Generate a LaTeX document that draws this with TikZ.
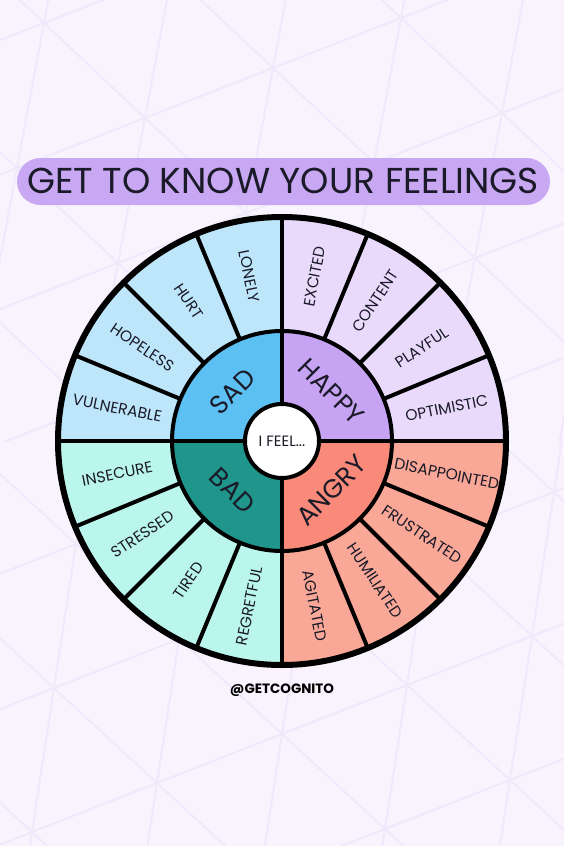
\documentclass[tikz,border=0pt]{standalone}
\usepackage{fontspec}
\setmainfont{Poppins}
\definecolor{bgc}{HTML}{F8F3FD}
\definecolor{meshc}{HTML}{F0E9FC}
\definecolor{titlec}{HTML}{C9A8F3}
\definecolor{sadin}{HTML}{5CC0F2}
\definecolor{sadout}{HTML}{BEE6FB}
\definecolor{hapin}{HTML}{C7A3F4}
\definecolor{hapout}{HTML}{E9DAFB}
\definecolor{angin}{HTML}{F98A79}
\definecolor{angout}{HTML}{F9A797}
\definecolor{badin}{HTML}{20958C}
\definecolor{badout}{HTML}{BBF6EC}
\definecolor{ink}{HTML}{1A1A28}
\tikzset{
  meshline/.style={draw=meshc, line width=2},
  outlab/.style={text=ink, font=\fontsize{15.5}{17}\selectfont, inner sep=0pt},
  inlab/.style={text=ink, font=\fontsize{26}{30}\selectfont, inner sep=0pt},
  wheelline/.style={draw=black, line width=4},
}
\begin{document}
\begin{tikzpicture}[x=1pt,y=-1pt]
\useasboundingbox (0,0) rectangle (564,846);
\fill[bgc] (0,0) rectangle (564,846);
% background mesh (top half)
\begin{scope}
\clip (0,0) rectangle (564,441);
\foreach \k in {-8,...,8}{
  \draw[meshline] ({145+\k*101-8*128},{118+\k*95+8*50}) -- ({145+\k*101+8*128},{118+\k*95-8*50});
  \draw[meshline] ({145+\k*128-8*101},{118-\k*50-8*95}) -- ({145+\k*128+8*101},{118-\k*50+8*95});
  \draw[meshline] ({145+\k*128+8*27},{118-\k*50-8*145}) -- ({145+\k*128-8*27},{118-\k*50+8*145});
}
\end{scope}
% background mesh (bottom half)
\begin{scope}
\clip (0,441) rectangle (564,846);
\foreach \k in {-8,...,8}{
  \draw[meshline] ({157+\k*103-8*125},{783+\k*95+8*49}) -- ({157+\k*103+8*125},{783+\k*95-8*49});
  \draw[meshline] ({157+\k*125-8*103},{783-\k*49-8*95}) -- ({157+\k*125+8*103},{783-\k*49+8*95});
  \draw[meshline] ({157+\k*125+8*22},{783-\k*49-8*144}) -- ({157+\k*125-8*22},{783-\k*49+8*144});
}
\end{scope}
% title
\fill[titlec, rounded corners=23.5] (17,158) rectangle (550,205);
\node[text=ink, font=\fontsize{36}{40}\selectfont, inner sep=0pt] (title) at (283,181) {GET TO KNOW YOUR FEELINGS};
% wheel
\begin{scope}[shift={(282,441)}, x=1pt, y=1pt]
  \fill[hapout] (0,0) -- (0:224) arc[start angle=0, end angle=90, radius=224] -- cycle;
  \fill[sadout] (0,0) -- (90:224) arc[start angle=90, end angle=180, radius=224] -- cycle;
  \fill[badout] (0,0) -- (180:224) arc[start angle=180, end angle=270, radius=224] -- cycle;
  \fill[angout] (0,0) -- (270:224) arc[start angle=270, end angle=360, radius=224] -- cycle;
  \fill[hapin] (0,0) -- (0:110) arc[start angle=0, end angle=90, radius=110] -- cycle;
  \fill[sadin] (0,0) -- (90:110) arc[start angle=90, end angle=180, radius=110] -- cycle;
  \fill[badin] (0,0) -- (180:110) arc[start angle=180, end angle=270, radius=110] -- cycle;
  \fill[angin] (0,0) -- (270:110) arc[start angle=270, end angle=360, radius=110] -- cycle;
  \foreach \a in {22.5,45,67.5,112.5,135,157.5,202.5,225,247.5,292.5,315,337.5}{
    \draw[wheelline] (\a:110) -- (\a:224);
  }
  \foreach \a in {0,90,180,270}{
    \draw[wheelline] (\a:30) -- (\a:224);
  }
  \draw[wheelline] (0,0) circle[radius=110];
  \draw[draw=black, line width=6] (0,0) circle[radius=224];
  \node[circle, fill=white, draw=black, line width=4, minimum size=74, inner sep=0pt, text=ink, font=\fontsize{15}{17}\selectfont] (feel) at (0,0) {I FEEL...};
  \foreach \nm/\ang/\txt in {lonely/101.25/LONELY, hurt/123.75/HURT, hopeless/146.25/HOPELESS, vulnerable/168.75/VULNERABLE, insecure/191.25/INSECURE, stressed/213.75/STRESSED, tired/236.25/TIRED, regretful/258.75/REGRETFUL}{
    \pgfmathsetmacro\rot{\ang-180}
    \node[outlab, rotate=\rot] (\nm) at (\ang:168) {\txt};
  }
  \foreach \nm/\ang/\txt in {excited/78.75/EXCITED, content/56.25/CONTENT, playful/33.75/PLAYFUL, optimistic/11.25/OPTIMISTIC, disappointed/-11.25/DISAPPOINTED, frustrated/-33.75/FRUSTRATED, humiliated/-56.25/HUMILIATED, agitated/-78.75/AGITATED}{
    \node[outlab, rotate=\ang] (\nm) at (\ang:168) {\txt};
  }
  \node[inlab, rotate=45] (sad) at (135:70) {SAD};
  \node[inlab, rotate=-45] (happy) at (45:70) {HAPPY};
  \node[inlab, rotate=45] (angry) at (-45:70) {ANGRY};
  \node[inlab, rotate=-45] (bad) at (225:70) {BAD};
\end{scope}
\node[text=black, font=\bfseries\fontsize{13.5}{15}\selectfont, inner sep=0pt] (handle) at (282,690) {@GETCOGNITO};
\end{tikzpicture}
\end{document}
